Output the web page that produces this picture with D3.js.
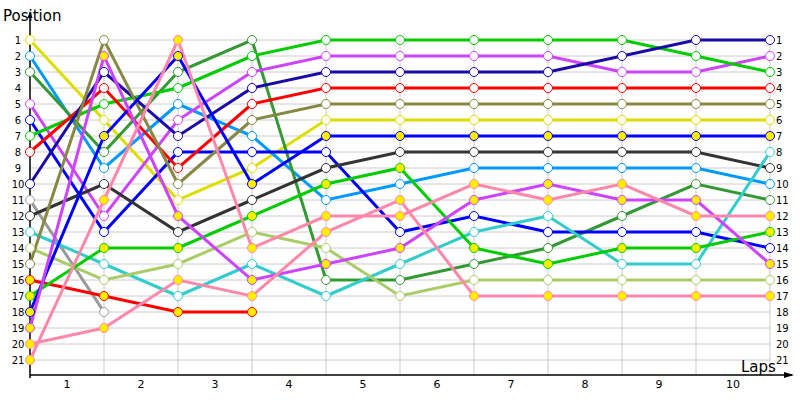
<!DOCTYPE html>
<html><head><meta charset="utf-8">
<script src="https://cdn.jsdelivr.net/npm/d3@7"></script>
<style>body{margin:0;background:#fff}svg{display:block}text{font-family:"DejaVu Sans",sans-serif}</style>
</head><body><svg id="c" width="800" height="400"></svg>
<script>
const laps = [0,1,2,3,4,5,6,7,8,9,10];
const lapLabels = ["1","2","3","4","5","6","7","8","9","10"];
const positions = d3.range(1,22);
const seriesNames = ["yellowW","lightblue","dkgreen","purpleW","blueW","greenW","redW","indigo","gray","darkgray","teal","lightolive","olive","redY","greenY","blueY","purpleY","pinkA","pinkB"];
const seriesColors = ["#dddd00","#0099ff","#339933","#cc44ff","#0000ff","#00cc00","#ff0000","#1a0aa8","#999999","#333333","#33cccc","#aacc66","#888844","#ff0000","#00cc00","#0000ff","#cc44ff","#ff88aa","#ff88aa"];
const seriesYellowFill = [false,false,false,false,false,false,false,false,false,false,false,false,false,true,true,true,true,true,true];
const seriesValues = [
 [1,6,11,9,6,6,6,6,6,6,6],
 [2,9,5,7,11,10,9,9,9,9,10],
 [3,8,3,1,16,16,15,14,12,10,11],
 [5,12,6,3,2,2,2,2,3,3,2],
 [6,13,8,8,8,13,12,13,13,13,14],
 [7,5,4,2,1,1,1,1,1,2,3],
 [8,4,9,5,4,4,4,4,4,4,4],
 [10,3,7,4,3,3,3,3,2,1,1],
 [11,18,null,null,null,null,null,null,null,null,null],
 [12,10,13,11,9,8,8,8,8,8,9],
 [13,15,17,15,17,15,13,12,15,15,8],
 [14,16,15,13,14,17,16,16,16,16,16],
 [15,1,10,6,5,5,5,5,5,5,5],
 [16,17,18,18,null,null,null,null,null,null,null],
 [17,14,14,12,10,9,14,15,14,14,13],
 [18,7,2,10,7,7,7,7,7,7,7],
 [19,2,12,16,15,14,11,10,11,11,15],
 [20,19,16,17,13,11,17,17,17,17,17],
 [21,11,1,14,12,12,10,11,10,12,12]
];
const svg = d3.select("#c");
const x = d3.scaleLinear().domain([0,10]).range([30,770]);
const y = d3.scaleLinear().domain([1,21]).range([40,360]);
const g = svg.append("g");
// grid
g.selectAll("line.h").data(positions).join("line").attr("x1",x(0)).attr("x2",x(10))
 .attr("y1",d=>y(d)).attr("y2",d=>y(d)).attr("stroke","#cccccc").attr("stroke-width",1);
g.selectAll("line.v").data(laps.slice(1)).join("line").attr("x1",d=>x(d)).attr("x2",d=>x(d))
 .attr("y1",y(1)).attr("y2",375).attr("stroke","#cccccc").attr("stroke-width",1);
// axes
svg.append("line").attr("x1",x(0)).attr("x2",x(0)).attr("y1",378).attr("y2",14).attr("stroke","#000").attr("stroke-width",1.5);
svg.append("path").attr("d",`M${x(0)-2.5},18L${x(0)},11L${x(0)+2.5},18Z`).attr("fill","#000");
svg.append("line").attr("x1",x(0)).attr("x2",792).attr("y1",375).attr("y2",375).attr("stroke","#000").attr("stroke-width",1.5);
svg.append("path").attr("d",`M784,372L794,375L784,378Z`).attr("fill","#000");
const yAxisL = d3.axisLeft(y).tickValues(positions).tickSize(0).tickPadding(8);
svg.append("g").attr("transform",`translate(${x(0)-6},0)`).call(yAxisL).call(s=>s.select(".domain").remove())
 .selectAll("text").attr("font-size",10).attr("text-anchor","middle").attr("dx",2);
const yAxisR = d3.axisRight(y).tickValues(positions).tickSize(0).tickPadding(6);
svg.append("g").attr("transform",`translate(${x(10)},0)`).call(yAxisR).call(s=>s.select(".domain").remove())
 .selectAll("text").attr("font-size",10);
svg.selectAll("text.lap").data(lapLabels).join("text").attr("class","lap")
 .attr("x",(d,i)=>(x(i)+x(i+1))/2).attr("y",388).attr("text-anchor","middle").attr("font-size",11).text(d=>d);
svg.append("text").attr("x",3).attr("y",21).attr("font-size",15).text("Position");
svg.append("text").attr("x",741).attr("y",372).attr("font-size",15).text("Laps");
// series
const line = d3.line().defined(d=>d!=null).x((d,i)=>x(laps[i])).y(d=>y(d));
seriesValues.forEach((vals,k)=>{
  const sg = svg.append("g");
  sg.append("path").attr("d",line(vals)).attr("fill","none").attr("stroke",seriesColors[k]).attr("stroke-width",3);
});
seriesValues.forEach((vals,k)=>{
  svg.append("g").selectAll("circle").data(vals.map((v,i)=>({v,i})).filter(d=>d.v!=null)).join("circle")
   .attr("cx",d=>x(laps[d.i])).attr("cy",d=>y(d.v)).attr("r",4.5)
   .attr("fill",seriesYellowFill[k]?"#ffee00":"#fff").attr("stroke",seriesColors[k]).attr("stroke-width",1);
});
</script></body></html>
